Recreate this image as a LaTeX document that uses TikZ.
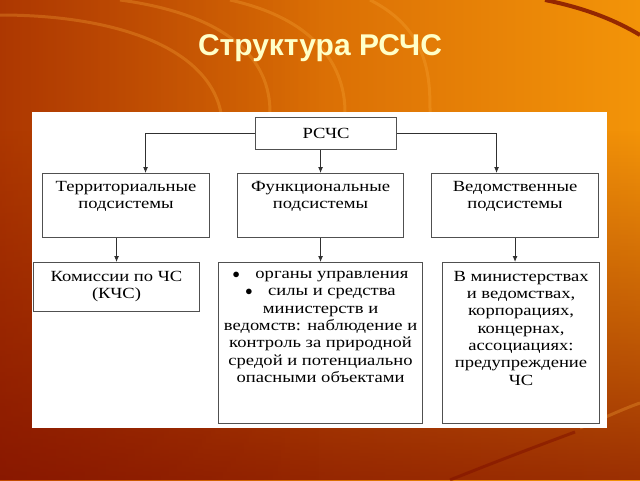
\documentclass[tikz,border=0pt]{standalone}
\usepackage{fontspec}
\setmainfont[FakeStretch=1.2]{Liberation Serif}
\newfontfamily\titlefont{Liberation Sans}
\usetikzlibrary{fadings,arrows.meta}
\definecolor{bgleft}{HTML}{C24A02}
\definecolor{bgright}{HTML}{F39408}
\definecolor{bgdark}{HTML}{7E0E00}
\definecolor{arcc}{HTML}{F8A838}
\definecolor{boxgray}{HTML}{505050}
\definecolor{linegray}{HTML}{303030}
\definecolor{titlec}{HTML}{FFFFC8}
\begin{document}
\begin{tikzpicture}[x=1pt,y=-1pt,
  box/.style={draw=boxgray, line width=1.1pt, fill=white, inner sep=0pt, anchor=north west},
  conn/.style={draw=linegray, line width=0.9pt, -{Latex[length=6pt,width=5pt]}},
  txt/.style={font=\fontsize{15.5}{17.3}\selectfont, align=center, text=black, inner sep=0pt, anchor=north}]
\useasboundingbox (0,0) rectangle (640,480);
% background
\shade[left color=bgleft, right color=bgright] (0,0) rectangle (640,480);
\fill[bgdark, path fading=north, opacity=0.75] (0,130) rectangle (640,480);
\fill[bgdark, path fading=east, opacity=0.3] (0,0) rectangle (320,480);
\begin{scope}[draw=arcc, line width=3pt, opacity=0.3]
  \draw (0,15) .. controls (120,15) and (215,50) .. (222,120);
  \draw (120,0) .. controls (230,15) and (270,60) .. (270,112);
  \draw (230,0) .. controls (320,20) and (345,70) .. (345,112);
  \draw (370,0) .. controls (430,30) and (430,80) .. (430,112);
  \draw (580,428) .. controls (600,420) and (620,410) .. (640,403);
\end{scope}
\draw[bgdark, line width=4pt, opacity=0.8] (545,0) .. controls (585,8) and (615,20) .. (640,35);
\draw[bgdark, line width=3pt, opacity=0.5] (450,480) .. controls (500,460) and (540,445) .. (575,432);
% title
\node[font=\titlefont\bfseries\fontsize{30}{34}\selectfont, text=titlec] (title) at (320,48) {Структура РСЧС};
% panel
\fill[white] (32,112) rectangle (607,428);
% boxes
\node[box, minimum width=141pt, minimum height=32pt] (rsch) at (255,117) {};
\node[txt, anchor=center] (rscht) at (rsch.center) {РСЧС};
\node[box, minimum width=167pt, minimum height=64pt] (terr) at (42,173) {};
\node[box, minimum width=166pt, minimum height=64pt] (func) at (237,173) {};
\node[box, minimum width=167pt, minimum height=64pt] (ved) at (431,173) {};
\node[txt] (terrt) at ([yshift=-8pt]terr.north) {Территориальные\\подсистемы};
\node[txt] (funct) at ([yshift=-8pt]func.north) {Функциональные\\подсистемы};
\node[txt] (vedt) at ([yshift=-8pt]ved.north) {Ведомственные\\подсистемы};
\node[box, minimum width=166pt, minimum height=49pt] (kom) at (33,262) {};
\node[box, minimum width=204pt, minimum height=161pt] (fb) at (218,262) {};
\node[box, minimum width=157pt, minimum height=161pt] (vb) at (442,262) {};
\node[txt] (komt) at ([yshift=-9pt]kom.north) {Комиссии по ЧС\\(КЧС)};
\node[txt] (fbt) at ([yshift=-9pt]fb.north) {$\bullet$\quad органы управления\\$\bullet$\quad силы и средства\\министерств и\\ведомств: наблюдение и\\контроль за природной\\средой и потенциально\\опасными объектами};
\node[txt] (vbt) at ([yshift=-9pt]vb.north) {В министерствах\\и ведомствах,\\корпорациях,\\концернах,\\ассоциациях:\\предупреждение\\ЧС};
% connectors
\draw[conn] (rsch.west) -| ([xshift=19.5pt]terr.north);
\draw[conn] (rsch.south -| func.north) -- (func.north);
\draw[conn] (rsch.east) -| ([xshift=-18.5pt]ved.north);
\draw[conn] (kom.north |- terr.south) -- (kom.north);
\draw[conn] (func.south) -- (fb.north);
\draw[conn] (ved.south) -- (ved.south |- vb.north);
\end{tikzpicture}
\end{document}
